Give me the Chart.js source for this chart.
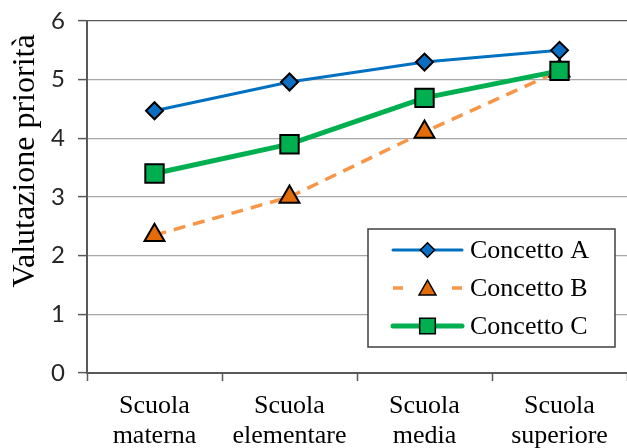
<!DOCTYPE html>
<html><head><meta charset="utf-8">
<script src="https://cdn.jsdelivr.net/npm/chart.js@4.4.1/dist/chart.umd.min.js"></script>
<style>html,body{margin:0;padding:0;background:#fff}canvas{display:block}</style>
</head><body>
<canvas id="c" width="627" height="448"></canvas>
<script>
// ---- data ----
const categories = [['Scuola','materna'],['Scuola','elementare'],['Scuola','media'],['Scuola','superiore']];
const seriesNames = ['Concetto A','Concetto B','Concetto C'];
const concettoA = [4.47, 4.96, 5.30, 5.50];
const concettoB = [2.35, 3.00, 4.11, 5.15];
const concettoC = [3.40, 3.90, 4.69, 5.15];
const yTicks = [0, 1, 2, 3, 4, 5, 6];
const yTitle = 'Valutazione priorità';

const SERIF = '"Liberation Serif", "Times New Roman", serif';
const SANS = 'Lato, "Open Sans", sans-serif';

const yTitlePlugin = {
  id: 'yTitle',
  afterDraw(chart) {
    const ctx = chart.ctx;
    ctx.save();
    ctx.translate(26, 161);
    ctx.rotate(-Math.PI / 2);
    ctx.font = '32px ' + SERIF;
    ctx.fillStyle = '#000';
    ctx.textAlign = 'center';
    ctx.textBaseline = 'middle';
    ctx.fillText(yTitle, 0, 0);
    ctx.restore();
  }
};

const boxLegend = {
  id: 'boxLegend',
  afterDraw(chart) {
    const ctx = chart.ctx;
    const bx = 368, by = 229, bw = 247, bh = 118;
    ctx.save();
    ctx.fillStyle = '#fff';
    ctx.fillRect(bx, by, bw, bh);
    ctx.strokeStyle = '#404040';
    ctx.lineWidth = 1.5;
    ctx.strokeRect(bx, by, bw, bh);
    const rows = [250, 288, 326];
    chart.data.datasets.forEach((ds, i) => {
      const y = rows[i];
      const x0 = 393, x1 = 462, xm = (x0 + x1) / 2;
      ctx.save();
      ctx.strokeStyle = ds.borderColor;
      ctx.lineWidth = ds.borderWidth;
      ctx.lineCap = 'round';
      if (ds.borderDash && ds.borderDash.length) {
        const d = 10;
        ctx.setLineDash([d, (x1 - x0) - 2 * d]);
        ctx.lineCap = 'butt';
      }
      ctx.beginPath(); ctx.moveTo(x0, y); ctx.lineTo(x1, y); ctx.stroke();
      ctx.restore();
      ctx.save();
      ctx.fillStyle = ds.pointBackgroundColor;
      ctx.strokeStyle = ds.pointBorderColor;
      ctx.lineWidth = 1.5;
      Chart.helpers.drawPoint(ctx, {pointStyle: ds.pointStyle, rotation: 0, radius: ds.pointRadius * 0.85, borderWidth: 1.5}, xm, ds.pointStyle === 'triangle' ? y + 2 : y);
      ctx.restore();
      ctx.fillStyle = '#000';
      ctx.font = '26px ' + SERIF;
      ctx.textAlign = 'left';
      ctx.textBaseline = 'middle';
      ctx.fillText(ds.label, 470, y + 1);
    });
    ctx.restore();
  }
};

new Chart(document.getElementById('c'), {
  type: 'line',
  data: {
    labels: categories,
    datasets: [
      {label: seriesNames[0], data: concettoA, borderColor: '#0070C0', borderWidth: 3,
       pointStyle: 'rectRot', pointRadius: 8.5, pointBackgroundColor: '#0A6FC2', pointBorderColor: '#000', pointBorderWidth: 2, order: 2},
      {label: seriesNames[1], data: concettoB, borderColor: '#F79646', borderWidth: 3.5, borderDash: [12, 8],
       pointStyle: 'triangle', pointRadius: 11.5, pointBackgroundColor: '#E36C09', pointBorderColor: '#000', pointBorderWidth: 2, order: 1},
      {label: seriesNames[2], data: concettoC, borderColor: '#00B050', borderWidth: 5,
       pointStyle: 'rect', pointRadius: 13, pointBackgroundColor: '#00B050', pointBorderColor: '#000', pointBorderWidth: 2, order: 0}
    ]
  },
  options: {
    responsive: false, animation: false, devicePixelRatio: 1,
    layout: {autoPadding: false, padding: {top: 21, right: 0, left: 0, bottom: 0}},
    elements: {line: {tension: 0}},
    plugins: {legend: {display: false}, tooltip: {enabled: false}},
    scales: {
      x: {
        offset: true,
        grid: {drawOnChartArea: false, offset: true, tickLength: 8, tickColor: '#595959', tickWidth: 1.5},
        border: {color: '#595959', width: 2},
        ticks: {font: {family: SERIF, size: 26, lineHeight: 1.15}, color: '#000', padding: 10, maxRotation: 0, autoSkip: false},
        afterFit(s) { s.height = 75; s.paddingLeft = 0; s.paddingRight = 0; }
      },
      y: {
        min: 0, max: 6,
        afterBuildTicks(s) { s.ticks = yTicks.map(v => ({value: v})); },
        grid: {color: ctx => ctx.tick && ctx.tick.value === 6 ? '#595959' : '#a6a6a6', lineWidth: 1.2, tickLength: 9, tickColor: '#595959', tickWidth: 1.5},
        border: {color: '#595959', width: 2},
        ticks: {font: {family: SANS, size: 24}, color: '#262626', padding: 13},
        afterFit(s) { s.width = 87; s.paddingTop = 0; s.paddingBottom = 0; }
      }
    }
  },
  plugins: [yTitlePlugin, boxLegend]
});
</script>
</body></html>
